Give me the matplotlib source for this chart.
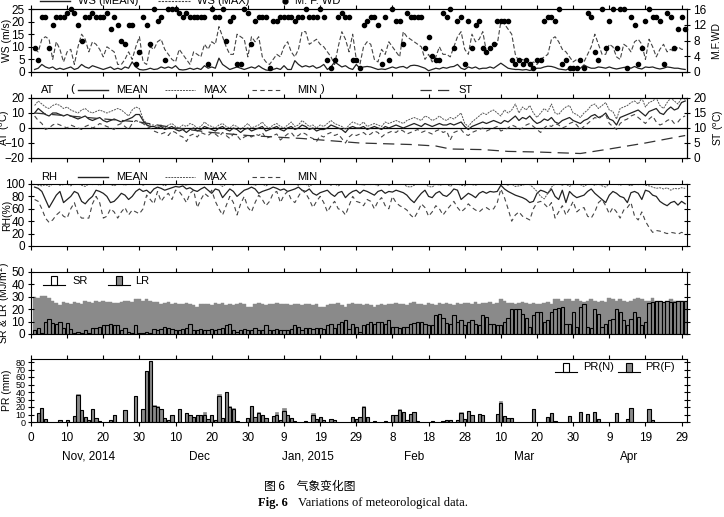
import matplotlib.pyplot as plt
from matplotlib.lines import Line2D
from matplotlib.patches import Rectangle

plt.rcParams['font.family'] = ['Liberation Sans', 'DejaVu Sans']
plt.rcParams['font.size'] = 8

# ---- data (day 1 = 1 Nov 2014 ... day 181 = 30 Apr 2015) ----
days = list(range(1, 182))

ws_mean = [1, 1.5, 3, 2, 1.5, 2, 1, 1.5, 1, 1.5,
           2, 1, 1.5, 3, 2, 1.5, 2.5, 2, 1.5, 1,
           1.5, 2, 1, 1.5, 1, 2, 1.5, 4, 2, 1,
           0.8, 1, 1.5, 1, 1.2, 2, 1.5, 2, 1.5, 2.5,
           1, 0.8, 1, 1.5, 1, 1.5, 1, 2.5, 1.5, 2,
           1.5, 5.5, 3, 2, 1, 1.5, 2, 1.5, 1, 1.5,
           2, 1.5, 2.5, 1.5, 0.8, 0.6, 1, 1.5, 1, 2.5,
           1, 1, 4.5, 3, 2, 2.5, 2, 2.5, 1.5, 2,
           3, 1, 2, 4, 3, 2, 2.5, 1.5, 1, 3,
           1.5, 2, 2.2, 2, 1.5, 1, 1.2, 1, 1.5, 2,
           1.5, 2, 2.2, 1.5, 2.5, 2.7, 2.5, 2, 1.5, 0.5,
           1, 1.5, 1.2, 1.8, 1.5, 2, 2.2, 3, 1.5, 1,
           2, 1.5, 2, 1.2, 1.5, 1.5, 2, 1.5, 2.5, 3.5,
           2.5, 1.5, 1.2, 1, 1, 0.8, 1, 0.6, 1, 1.5,
           1.5, 2, 2.3, 2.2, 1.8, 1.2, 1, 0.8, 1.5, 1,
           1.5, 1.5, 2.8, 2, 1.5, 1.5, 2, 1.8, 1.5, 2,
           1.5, 1.2, 1.5, 1.8, 2, 1.5, 2.2, 1.5, 1.2, 2,
           1.8, 2, 1.5, 1.2, 1.5, 2, 1.8, 1.5, 1.5, 1.2, 1]

ws_max = [9, 8, 13, 14, 13, 5, 12, 9, 4, 8,
          9, 3, 10, 15, 13, 8, 12, 11, 9, 6,
          10, 9, 8, 3, 3, 5, 8, 5, 10, 14,
          4, 3, 10, 9, 12, 13, 9, 7, 5, 4,
          9, 7, 5, 3, 8, 7, 6, 11, 9, 12,
          11, 18, 14, 10, 7, 7, 15, 14, 13, 6,
          14, 12, 14, 6, 4, 3, 5, 7, 6, 10,
          12, 8, 6, 9, 16, 16, 11, 12, 13, 11,
          10, 8, 6, 3, 10, 16, 13, 8, 15, 5,
          3, 10, 12, 11, 5, 4, 9, 7, 12, 10,
          8, 6, 16, 14, 13, 12, 11, 10, 5, 7,
          4, 6, 10, 7, 7, 6, 10, 14, 16, 9,
          7, 15, 12, 13, 16, 8, 9, 10, 11, 20,
          19, 17, 15, 7, 4, 5, 4, 3, 4, 3,
          5, 6, 7, 13, 14, 12, 9, 8, 6, 4,
          5, 4, 4, 7, 10, 15, 11, 7, 7, 11,
          10, 6, 5, 11, 10, 8, 12, 13, 11, 5,
          13, 10, 6, 9, 11, 8, 9, 8, 10, 9, 9]

mfwd = [6, 3, 14, 14, 6, 12, 14, 14, 14, 15,
        16, 15, 12, 8, 14, 14, 15, 14, 14, 14,
        15, 11, 14, 12, 8, 7, 12, 12, 2, 5,
        14, 12, 7, 16, 13, 14, 3, 16, 16, 16,
        15, 14, 15, 14, 14, 14, 14, 14, 2, 16,
        14, 14, 16, 8, 13, 14, 2, 2, 16, 15,
        7, 13, 14, 14, 14, 1, 13, 13, 14, 14,
        14, 14, 13, 14, 14, 16, 14, 14, 14, 16,
        14, 3, 1, 3, 14, 15, 14, 14, 3, 3,
        1, 12, 13, 14, 14, 12, 2, 14, 3, 16,
        13, 13, 7, 15, 14, 14, 14, 14, 6, 9,
        4, 3, 3, 15, 14, 16, 6, 13, 14, 2,
        13, 6, 12, 13, 6, 5, 6, 7, 13, 13,
        13, 13, 3, 2, 3, 2, 3, 2, 1, 3,
        3, 13, 14, 14, 13, 16, 2, 3, 1, 1,
        1, 3, 1, 15, 14, 5, 3, 16, 6, 13,
        16, 6, 16, 16, 1, 14, 12, 2, 6, 13,
        16, 14, 14, 13, 2, 15, 14, 6, 11, 14, 11]

at_mean = [10, 13, 11, 9, 8, 10, 10, 9, 8, 9,
           8, 7, 6, 7, 8, 6, 5, 6, 7, 5,
           4, 5, 6, 5, 4, 5, 6, 7, 9, 9,
           5, 2, 1, 1, 0, 1, -1, 0, 1, -1,
           -2, -1, -3, -1, 0, -2, -1, 1, 0, -1,
           -2, 0, 1, -1, -2, 0, -1, -3, -1, 0,
           -2, -1, 0, 1, -2, -1, 0, 1, -1, -2,
           0, 1, -1, 0, 2, 1, -1, 0, -2, -1,
           -1, 0, 2, 1, 0, -1, -3, 0, 1, 0,
           0, 1, -1, 0, 1, 0, -1, 1, 0, 1,
           2, 1, 0, 1, 2, 3, 2, 1, 3, 2,
           1, 2, 3, 2, 2, 3, 2, 3, 4, 1,
           -1, 1, 2, 3, 4, 3, 4, 5, 4, 3,
           5, 4, 6, 8, 5, 7, 6, 8, 5, 3,
           4, 6, 5, 7, 4, 3, 5, 6, 7, 5,
           4, 3, 5, 6, 8, 9, 7, 8, 10, 6,
           5, 2, 7, 8, 9, 10, 11, 12, 10, 8,
           11, 12, 13, 10, 9, 12, 14, 12, 13, 17, 18]

at_max = [15, 18, 16, 14, 13, 15, 16, 15, 13, 14,
          12, 11, 10, 12, 13, 11, 10, 11, 12, 11,
          10, 11, 12, 13, 12, 10, 8, 12, 14, 13,
          6, 3, 2, 2, 1, 2, 0, 2, 3, 1,
          0, 2, 1, 3, 2, 0, 1, 4, 2, 1,
          0, 2, 3, 1, 0, 2, 1, -1, 1, 3,
          0, 1, 2, 4, 1, 0, 2, 3, 1, 0,
          2, 4, 1, 2, 5, 3, 1, 2, 0, 2,
          1, 3, 5, 3, 2, 1, -1, 2, 4, 3,
          2, 4, 1, 2, 3, 2, 1, 4, 3, 4,
          5, 4, 3, 5, 6, 7, 6, 5, 8, 7,
          5, 6, 8, 6, 5, 7, 6, 8, 10, 3,
          1, 4, 6, 8, 10, 9, 11, 12, 10, 8,
          12, 10, 12, 16, 10, 14, 12, 15, 10, 7,
          10, 13, 11, 16, 10, 9, 12, 14, 15, 10,
          9, 7, 10, 12, 15, 16, 13, 15, 17, 12,
          11, 6, 13, 14, 15, 17, 18, 16, 20, 14,
          17, 18, 20, 15, 13, 17, 20, 18, 16, 20, 19]

at_min = [8, 5, 3, -1, 0, 2, 3, 2, 1, 0,
          2, 1, 0, -1, 1, 2, 0, 1, 3, 2,
          1, 0, -1, 2, 3, 1, -1, 3, 5, 4,
          3, 1, 0, -2, -3, -4, -3, -5, -2, -3,
          -5, -6, -9, -5, -4, -6, -3, -4, -5, -3,
          -4, -6, -3, -5, -7, -4, -5, -8, -6, -5,
          -6, -4, -5, -3, -7, -6, -5, -4, -8, -6,
          -4, -3, -6, -5, -3, -4, -6, -7, -9, -5,
          -6, -4, -3, -5, -4, -7, -10, -6, -4, -5,
          -4, -3, -5, -4, -2, -3, -6, -4, -3, -2,
          -3, -1, -2, -4, -3, -2, -1, -3, -2, -3,
          -4, -2, -1, -3, -2, -8, -3, -2, -1, -4,
          -5, -3, -2, -1, 0, -2, -1, 0, 1, -2,
          -1, 0, 2, 1, -1, 0, 2, 3, 1, -1,
          -3, 0, 2, 1, 3, 2, 0, 1, 3, 4,
          2, -1, 1, 3, 5, 7, 6, 8, 9, 3,
          1, -1, 3, 5, 6, 8, 9, 7, 5, 3,
          6, 8, 4, 2, 3, 5, 6, 3, 4, 7, 8]

st_days = [1, 30, 40, 50, 60, 75, 91, 105, 112, 116, 125, 132, 140, 152, 160, 170, 181]
st = [15, 12, 10, 8.5, 7.5, 6.5, 5, 4.5, 4, 3, 2.8, 2.2, 2, 1.5, 3, 5, 7.5]

rh_mean = [95, 93, 88, 75, 62, 72, 82, 88, 70, 75,
           80, 88, 85, 72, 68, 75, 80, 90, 88, 85,
           80, 70, 72, 78, 85, 82, 75, 80, 88, 92,
           88, 90, 85, 92, 95, 93, 90, 92, 94, 96,
           95, 97, 92, 94, 90, 88, 92, 95, 90, 85,
           92, 90, 78, 85, 92, 88, 80, 85, 90, 92,
           95, 92, 85, 88, 90, 92, 95, 93, 90, 92,
           88, 90, 92, 95, 90, 88, 92, 85, 82, 86,
           88, 90, 84, 80, 86, 88, 78, 84, 88, 90,
           85, 90, 88, 85, 82, 88, 90, 85, 88, 87,
           90, 88, 86, 82, 75, 70, 78, 85, 90, 80,
           78, 85, 88, 82, 80, 85, 92, 90, 75, 80,
           85, 82, 78, 85, 88, 85, 88, 87, 88, 98,
           92, 88, 85, 82, 80, 78, 75, 70, 72, 85,
           90, 88, 85, 92, 80, 75, 90, 70, 88, 82,
           78, 80, 82, 88, 92, 85, 80, 75, 70, 82,
           88, 85, 80, 78, 70, 86, 88, 85, 75, 90,
           88, 82, 80, 72, 68, 65, 70, 72, 66, 72, 68]

rh_max = [100, 98, 97, 99, 96, 100, 100, 98, 99, 100,
          97, 100, 100, 98, 96, 100, 99, 100, 98, 100,
          100, 99, 97, 100, 100, 98, 100, 99, 100, 100,
          98, 100, 100, 99, 100, 100, 97, 100, 100, 99,
          100, 100, 98, 100, 100, 99, 100, 100, 99, 100,
          100, 100, 96, 100, 100, 98, 100, 100, 99, 100,
          100, 98, 100, 100, 97, 100, 100, 100, 99, 100,
          100, 99, 100, 98, 100, 100, 96, 100, 100, 99,
          100, 100, 98, 100, 97, 100, 100, 99, 100, 100,
          100, 98, 100, 99, 100, 97, 100, 100, 98, 100,
          100, 99, 100, 96, 95, 98, 100, 99, 100, 96,
          95, 100, 98, 99, 100, 96, 100, 100, 98, 97,
          100, 99, 98, 100, 100, 99, 100, 100, 100, 100,
          100, 98, 100, 96, 97, 98, 100, 99, 94, 88,
          80, 76, 85, 95, 100, 100, 98, 100, 96, 100,
          100, 99, 96, 100, 100, 98, 100, 97, 95, 100,
          100, 100, 98, 100, 99, 97, 100, 99, 100, 98,
          97, 95, 93, 94, 92, 94, 90, 93, 92, 94, 93]

rh_min = [75, 72, 60, 45, 38, 42, 50, 55, 48, 45,
          60, 70, 52, 45, 45, 45, 68, 80, 70, 45,
          48, 60, 55, 45, 55, 62, 50, 58, 55, 52,
          60, 82, 75, 68, 88, 72, 80, 85, 75, 90,
          88, 80, 70, 85, 90, 62, 75, 85, 80, 90,
          72, 60, 50, 65, 80, 70, 50, 68, 80, 62,
          55, 70, 82, 75, 65, 72, 85, 88, 70, 82,
          88, 75, 70, 80, 90, 85, 75, 62, 72, 80,
          70, 55, 65, 72, 60, 58, 50, 65, 80, 72,
          70, 65, 75, 72, 60, 72, 78, 65, 60, 80,
          70, 65, 62, 58, 50, 45, 55, 68, 62, 48,
          55, 65, 60, 50, 58, 65, 72, 62, 55, 60,
          68, 62, 58, 55, 60, 62, 58, 60, 70, 92,
          78, 60, 40, 50, 55, 48, 45, 42, 60, 70,
          72, 68, 62, 70, 45, 55, 65, 50, 60, 72,
          55, 60, 62, 48, 45, 55, 70, 75, 65, 52,
          62, 55, 45, 58, 62, 70, 48, 42, 55, 40,
          30, 22, 25, 24, 22, 20, 22, 21, 19, 22, 20]

sr = [3, 5, 1, 10, 12, 9, 8, 10, 5, 9,
      4, 1, 2, 1, 3, 1, 5, 5, 6, 7,
      7, 8, 7, 7, 3, 5, 2, 1, 7, 1,
      1, 2, 1, 4, 3, 4, 6, 5, 4, 3,
      3, 4, 5, 8, 3, 3, 4, 3, 3, 4,
      3, 4, 5, 7, 8, 3, 2, 3, 4, 3,
      3, 5, 3, 3, 7, 3, 3, 4, 3, 3,
      3, 4, 7, 6, 3, 5, 5, 4, 5, 5,
      4, 7, 8, 5, 8, 10, 11, 4, 8, 6,
      2, 7, 8, 10, 8, 10, 10, 8, 11, 6,
      6, 5, 6, 6, 8, 9, 10, 10, 8, 7,
      7, 15, 16, 13, 9, 8, 15, 10, 11, 7,
      10, 11, 8, 7, 15, 14, 8, 8, 7, 7,
      10, 13, 20, 20, 20, 16, 13, 6, 15, 18,
      18, 10, 11, 18, 20, 21, 22, 8, 8, 18,
      6, 22, 24, 6, 5, 20, 16, 6, 8, 11,
      12, 20, 18, 11, 7, 12, 18, 14, 7, 10,
      25, 26, 27, 27, 26, 27, 26, 26, 27, 27, 27]

lr = [30, 29, 31, 31, 29, 27, 25, 23, 26, 25,
      24, 26, 25, 24, 27, 26, 25, 27, 26, 27,
      26, 26, 25, 25, 26, 27, 27, 26, 28, 28,
      27, 28, 27, 26, 26, 24, 25, 26, 24, 25,
      24, 24, 25, 24, 23, 22, 24, 24, 24, 23,
      25, 24, 25, 23, 24, 23, 24, 25, 24, 22,
      22, 24, 25, 24, 23, 24, 24, 25, 24, 24,
      24, 23, 24, 24, 23, 24, 24, 23, 24, 22,
      22, 23, 24, 24, 25, 23, 22, 24, 25, 24,
      24, 23, 24, 23, 22, 23, 24, 23, 24, 24,
      25, 24, 24, 23, 25, 26, 24, 24, 23, 25,
      24, 23, 25, 24, 25, 24, 23, 25, 24, 25,
      25, 24, 26, 24, 25, 25, 26, 24, 25, 28,
      27, 25, 25, 24, 25, 26, 25, 24, 25, 24,
      24, 25, 26, 24, 28, 28, 27, 28, 28, 27,
      28, 27, 26, 27, 28, 27, 26, 27, 26, 29,
      28, 27, 28, 27, 26, 27, 28, 29, 28, 27,
      27, 29, 27, 27, 26, 27, 28, 27, 27, 27, 27]

pr_days = [2, 3, 4, 8, 10, 12, 13, 14, 15, 16, 17, 18, 19, 22, 23, 26, 29, 31, 32, 33,
           34, 35, 36, 37, 38, 39, 41, 43, 44, 45, 46, 47, 48, 49, 50, 51, 52, 53, 54, 55,
           56, 57, 60, 61, 62, 63, 64, 65, 67, 68, 69, 70, 71, 72, 73, 76, 78, 79, 80, 81,
           83, 84, 89, 90, 91, 92, 93, 95, 98, 100, 101, 102, 103, 104, 105, 106, 107, 111, 114, 115,
           116, 118, 119, 120, 121, 122, 124, 125, 129, 130, 131, 132, 133, 139, 143, 144, 145, 149, 152, 154,
           156, 157, 162, 165, 166, 171, 172]
pr_n = [12, 19, 4, 3, 3, 8, 36, 16, 7, 3, 17, 6, 2, 3, 9, 16, 35, 18, 68, 82,
        22, 20, 17, 5, 3, 10, 18, 12, 10, 7, 10, 10, 10, 4, 10, 3, 35, 6, 40, 20,
        17, 2, 6, 21, 7, 12, 10, 6, 8, 10, 3, 15, 9, 5, 2, 2, 9, 4, 7, 3,
        4, 3, 7, 4, 7, 20, 7, 2, 2, 9, 9, 16, 14, 3, 11, 14, 2, 2, 2, 3,
        3, 3, 12, 4, 15, 10, 11, 9, 11, 25, 8, 6, 5, 18, 7, 12, 2, 8, 14, 11,
        13, 4, 12, 4, 19, 17, 3]
pr_f = [12, 19, 4, 3, 3, 8, 38, 16, 7, 3, 17, 6, 2, 3, 9, 16, 35, 18, 68, 82,
        23, 21, 18, 5, 3, 10, 18, 12, 10, 7, 10, 10, 13, 4, 10, 3, 37, 6, 40, 22,
        19, 2, 6, 22, 7, 14, 10, 6, 8, 13, 3, 19, 9, 5, 2, 2, 12, 4, 7, 3,
        4, 3, 7, 4, 7, 22, 7, 2, 2, 9, 9, 18, 14, 3, 11, 14, 2, 2, 2, 3,
        3, 3, 13, 4, 15, 10, 11, 9, 11, 28, 8, 6, 5, 18, 7, 12, 2, 8, 14, 11,
        13, 4, 12, 4, 19, 17, 3]

xtick_pos = list(range(0, 181, 10))
xtick_labels = ['0', '10', '20', '30', '10', '20', '30', '9', '19', '29',
                '8', '18', '28', '10', '20', '30', '9', '19', '29']
months = ['Nov, 2014', 'Dec', 'Jan, 2015', 'Feb', 'Mar', 'Apr']
month_pos = [16, 46.5, 76.5, 106, 136.5, 165.5]

W, H = 724, 517
fig = plt.figure(figsize=(W / 100, H / 100), dpi=100)


def make_ax(top, bottom):
    a = fig.add_axes([31 / W, 1 - bottom / H, 656 / W, (bottom - top) / H])
    a.set_xlim(0, 181.5)
    a.set_xticks(xtick_pos)
    a.tick_params(axis='x', direction='out', length=3, top=True, labelbottom=False)
    a.tick_params(axis='y', direction='inout', length=5, labelsize=8.5, pad=2)
    for s in a.spines.values():
        s.set_linewidth(0.8)
    return a


def left_label(a, s):
    a.set_ylabel(s, fontsize=7.5)
    a.yaxis.set_label_coords(-0.029, 0.5)


def right_label(a, s):
    a.set_ylabel(s, fontsize=7.5)
    a.yaxis.set_label_coords(1.037, 0.5)


grey = '#8a8a8a'

# ---- panel 1: wind ----
ax1 = make_ax(9, 72)
ax1.plot(days, ws_mean, color='#222222', lw=0.9)
ax1.plot(days, ws_max, color='#444444', lw=0.8, ls=(0, (4, 2)))
ax1.set_ylim(0, 25)
ax1.set_yticks([0, 5, 10, 15, 20, 25])
left_label(ax1, 'WS (m/s)')
ax1r = ax1.twinx()
ax1r.scatter(days, mfwd, s=9, color='black', zorder=3, clip_on=False)
ax1r.set_ylim(0, 16)
ax1r.set_yticks([0, 4, 8, 12, 16])
ax1r.tick_params(direction='inout', length=5, labelsize=8.5, pad=2)
right_label(ax1r, 'M.F.WD')

# ---- panel 2: temperature ----
ax2 = make_ax(98, 158)
ax2.axhline(0, color='black', lw=0.9)
ax2.plot(days, at_mean, color='#222222', lw=0.9)
ax2.plot(days, at_max, color='#555555', lw=0.7, ls=(0, (2, 1)))
ax2.plot(days, at_min, color='#444444', lw=0.8, ls=(0, (4, 3)))
ax2.set_ylim(-20, 20)
ax2.set_yticks([-20, -10, 0, 10, 20])
left_label(ax2, 'AT ($^{\\rm o}$C)')
ax2r = ax2.twinx()
ax2r.plot(st_days, st, color='#333333', lw=0.9, ls=(0, (9, 5)))
ax2r.set_ylim(0, 20)
ax2r.set_yticks([0, 5, 10, 15, 20])
ax2r.tick_params(direction='inout', length=5, labelsize=8.5, pad=2)
right_label(ax2r, 'ST ($^{\\rm o}$C)')

# ---- panel 3: humidity ----
ax3 = make_ax(184, 246)
ax3.plot(days, rh_mean, color='#222222', lw=0.9)
ax3.plot(days, rh_max, color='#555555', lw=0.7, ls=(0, (2, 1)))
ax3.plot(days, rh_min, color='#444444', lw=0.8, ls=(0, (4, 3)))
ax3.set_ylim(0, 100)
ax3.set_yticks(range(0, 101, 20))
ax3.tick_params(axis='y', right=True)
left_label(ax3, 'RH(%)')

# ---- panel 4: radiation ----
ax4 = make_ax(272, 334)
ax4.bar(days, lr, width=1.0, color=grey, edgecolor=grey, lw=0.3)
ax4.bar(days, sr, width=0.9, facecolor='none', edgecolor='black', lw=0.8)
ax4.set_ylim(0, 50)
ax4.set_yticks(range(0, 51, 10))
ax4.tick_params(axis='y', right=True)
left_label(ax4, 'SR & LR (MJ/m$^2$)')

# ---- panel 5: precipitation ----
ax5 = make_ax(359, 422)
ax5.bar(pr_days, pr_f, width=0.9, color=grey, edgecolor=grey, lw=0.5)
ax5.bar(pr_days, pr_n, width=0.9, facecolor='none', edgecolor='black', lw=0.8)
ax5.set_ylim(0, 84)
ax5.set_yticks(range(0, 81, 10))
ax5.tick_params(axis='y', right=True, labelsize=6.5, pad=1.5)
ax5.tick_params(axis='x', labelbottom=True, labelsize=8.5, pad=4)
ax5.set_xticklabels(xtick_labels)
left_label(ax5, 'PR (mm)')
for m, p in zip(months, month_pos):
    ax5.text(p, -0.55, m, transform=ax5.get_xaxis_transform(), ha='center', va='center', fontsize=8.5)


# ---- hand-made legends ----
def line_key(x0, x1, y, **kw):
    fig.add_artist(Line2D([x0 / W, x1 / W], [1 - y / H, 1 - y / H], **kw))


def label(x, y, s, **kw):
    fig.text(x / W, 1 - y / H, s, va='center', ha='left', fontsize=8, **kw)


line_key(40, 70, 1, color='#222222', lw=1)
label(78, 1, 'WS (MEAN)')
line_key(158, 190, 1, color='#444444', lw=0.8, ls=(0, (2, 1)))
label(197, 1, 'WS (MAX)')
fig.add_artist(Line2D([285 / W], [1 - 1 / H], marker='o', ms=3.5, color='black'))
label(295, 1, 'M. F. WD')

for y, name in [(90, 'AT'), (177, 'RH')]:
    label(41, y, name)
    line_key(78, 108, y, color='#222222', lw=1)
    label(116, y, 'MEAN')
    line_key(165, 195, y, color='#555555', lw=0.7, ls=(0, (2, 1)))
    label(203, y, 'MAX')
    line_key(252, 283, y, color='#444444', lw=0.8, ls=(0, (4, 3)))
    label(297, y, 'MIN')
label(70, 89, '(')
label(321, 89, ')')
line_key(420, 452, 90, color='#333333', lw=0.9, ls=(0, (9, 5)))
label(458, 90, 'ST')


def bar_key(x0, x1, y, filled):
    line_key(x0, x1, y, color='black', lw=0.8)
    cx = (x0 + x1) / 2
    fig.add_artist(Rectangle(((cx - 3) / W, 1 - y / H), 6 / W, 9 / H,
                             facecolor=grey if filled else 'white', edgecolor='black', lw=0.8))


bar_key(43, 65, 285, False)
label(72, 281, 'SR')
bar_key(108, 130, 285, True)
label(135, 281, 'LR')
bar_key(555, 577, 372, False)
label(583, 367, 'PR(N)')
bar_key(618, 640, 372, True)
label(645, 367, 'PR(F)')

# ---- caption ----
fig.text(264 / W, 1 - 486 / H, '图 6　气象变化图', family=['Noto Sans CJK SC', 'DejaVu Sans'],
         fontsize=8.5, va='center', ha='left')
fig.text(258 / W, 1 - 503 / H, 'Fig. 6', family='Liberation Serif', fontweight='bold',
         fontsize=9, va='center', ha='left')
fig.text(298 / W, 1 - 503 / H, 'Variations of meteorological data.', family='Liberation Serif',
         fontsize=9, va='center', ha='left')

fig.savefig('out.png', dpi=100)
